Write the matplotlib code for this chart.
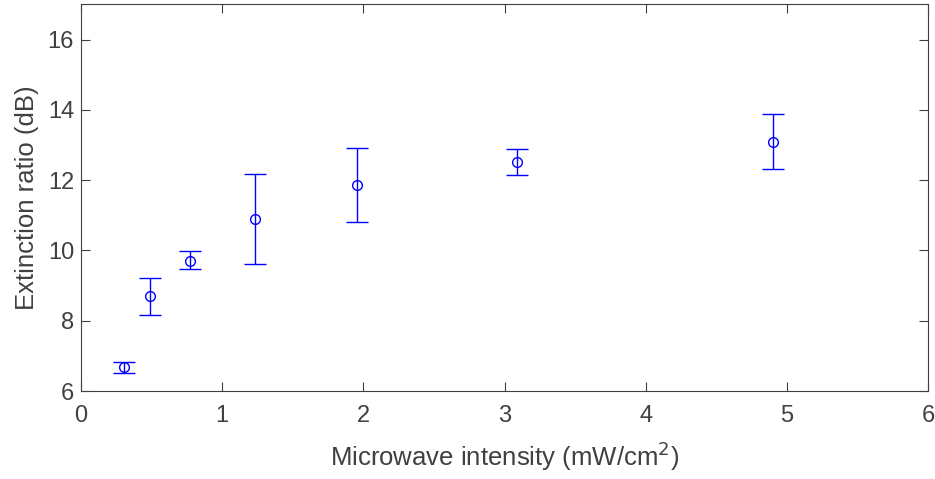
import matplotlib
matplotlib.use("Agg")
import matplotlib.pyplot as plt
import numpy as np

# microwave intensity (mW/cm^2) and extinction ratio (dB)
intensity = [0.305, 0.489, 0.774, 1.232, 1.953, 3.09, 4.90]
extinction = [6.69, 8.71, 9.71, 10.90, 11.87, 12.52, 13.10]
err_low = [0.17, 0.54, 0.23, 1.28, 1.05, 0.37, 0.78]
err_high = [0.14, 0.52, 0.27, 1.27, 1.04, 0.38, 0.79]

x_ticks = [0, 1, 2, 3, 4, 5, 6]
y_ticks = [6, 8, 10, 12, 14, 16]

text_color = "#404040"
plt.rcParams["font.family"] = ["Liberation Sans", "DejaVu Sans"]

fig = plt.figure(figsize=(9.35, 4.79), dpi=100)
ax = fig.add_axes([0.0866, 0.1837, 0.906, 0.807])

ax.errorbar(intensity, extinction, yerr=[err_low, err_high], fmt="o",
            color="blue", mfc="none", mec="blue", ms=7, mew=1.0,
            elinewidth=1.0, capsize=8, capthick=1.0)

ax.set_xlim(0, 6)
ax.set_ylim(6, 17)
ax.set_xticks(x_ticks)
ax.set_yticks(y_ticks)
ax.tick_params(direction="in", length=6.5, width=0.8, top=True, right=True,
               labelsize=17, colors=text_color)
ax.tick_params(axis="x", pad=10)
ax.tick_params(axis="y", pad=5)
for s in ax.spines.values():
    s.set_color(text_color)
    s.set_linewidth(0.8)

ax.set_xlabel("Microwave intensity (mW/cm$^2$)", fontsize=18.5, color=text_color, labelpad=9)
ax.set_ylabel("Extinction ratio (dB)", fontsize=18.5, color=text_color, labelpad=6)

fig.savefig("out.png", dpi=100)
